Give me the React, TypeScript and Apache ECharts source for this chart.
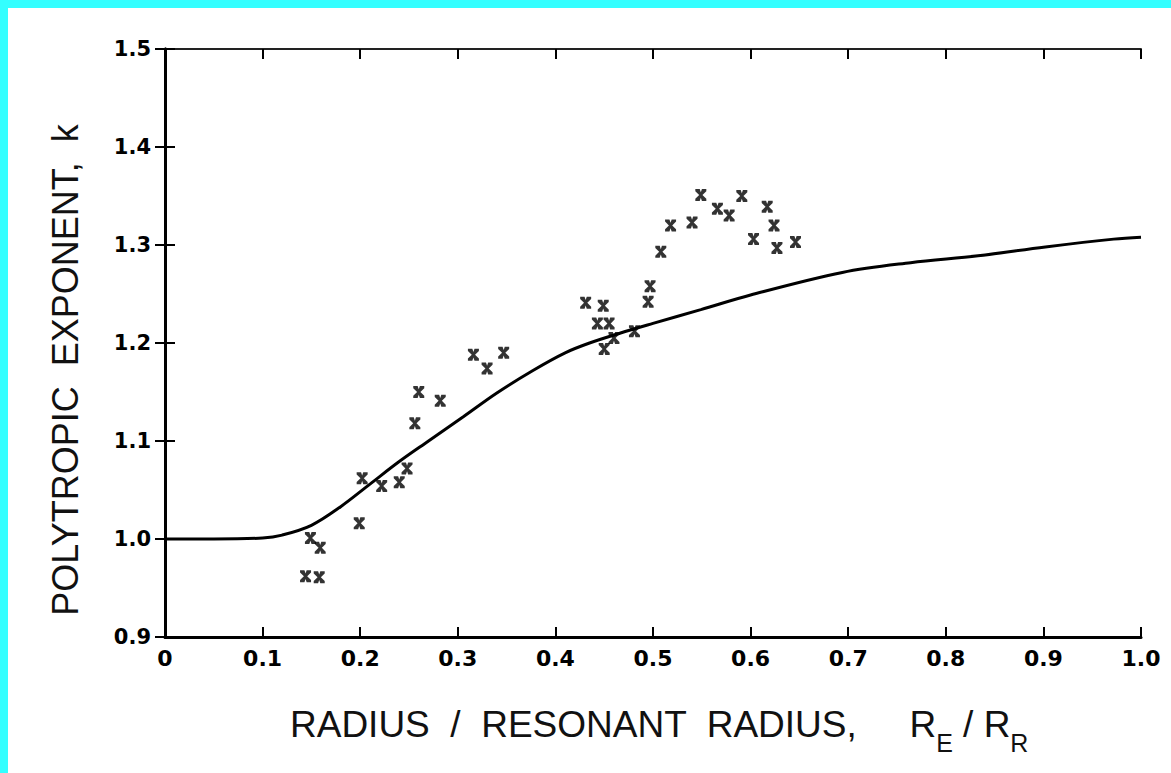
import React, { useEffect, useRef } from "react";
import * as echarts from "echarts";

// Measured points (radius ratio, polytropic exponent k)
const pointX = [
  0.144, 0.158, 0.149, 0.159, 0.199, 0.202, 0.222, 0.240, 0.248, 0.256, 0.260, 0.282,
  0.316, 0.330, 0.347, 0.431, 0.449, 0.443, 0.455, 0.450, 0.460, 0.481, 0.495, 0.497,
  0.508, 0.518, 0.540, 0.549, 0.566, 0.578, 0.591, 0.603, 0.617, 0.624, 0.627, 0.646,
];
const pointY = [
  0.962, 0.961, 1.001, 0.991, 1.016, 1.062, 1.054, 1.058, 1.072, 1.118, 1.150, 1.141,
  1.188, 1.174, 1.190, 1.241, 1.238, 1.220, 1.220, 1.194, 1.205, 1.212, 1.242, 1.258,
  1.293, 1.320, 1.323, 1.351, 1.337, 1.330, 1.350, 1.306, 1.339, 1.320, 1.297, 1.303,
];

// Theoretical curve
const curveX = [
  0, 0.05, 0.1, 0.12, 0.15, 0.18, 0.21, 0.24, 0.27, 0.306, 0.34, 0.377, 0.41, 0.435,
  0.466, 0.5, 0.549, 0.6, 0.694, 0.764, 0.833, 0.902, 0.972, 1.0,
];
const curveY = [
  1.0, 1.0, 1.001, 1.004, 1.014, 1.033, 1.056, 1.079, 1.1, 1.125, 1.149, 1.172, 1.19,
  1.2, 1.21, 1.22, 1.234, 1.249, 1.272, 1.282, 1.289, 1.298, 1.306, 1.308,
];

const xTitle = "RADIUS  /  RESONANT  RADIUS,";
const yTitle = "POLYTROPIC  EXPONENT,  k";

const X_SYMBOL =
  "path://M0,0H4L5,3L6,0H10V2L6.5,5.5L10,9V11H6L5,8L4,11H0V9L3.5,5.5L0,2Z";

export default function App() {
  const ref = useRef<HTMLDivElement>(null);

  useEffect(() => {
    if (!ref.current) return;
    const chart = echarts.init(ref.current, undefined, { renderer: "svg" });
    const frame = { lineStyle: { color: "#000", width: 3 } };
    const tickFont = {
      fontFamily: "DejaVu Sans",
      fontWeight: "bold" as const,
      color: "#000",
    };
    chart.setOption({
      animation: false,
      backgroundColor: "#fff",
      grid: { left: 157, top: 41, right: 30, bottom: 136 },
      xAxis: [
        {
          type: "value",
          min: 0,
          max: 1,
          interval: 0.1,
          position: "bottom",
          axisLine: frame,
          axisTick: { inside: true, length: 10, lineStyle: { color: "#000", width: 2 } },
          axisLabel: {
            ...tickFont,
            fontSize: 22,
            margin: 10,
            formatter: (v: number) => (v === 0 ? "0" : v.toFixed(1)),
          },
          splitLine: { show: false },
        },
        {
          type: "value",
          min: 0,
          max: 1,
          interval: 0.1,
          position: "top",
          axisLine: { lineStyle: { color: "#222", width: 2 } },
          axisTick: { inside: true, length: 10, lineStyle: { color: "#000", width: 2 } },
          axisLabel: { show: false },
          splitLine: { show: false },
        },
      ],
      yAxis: [
        {
          type: "value",
          min: 0.9,
          max: 1.5,
          interval: 0.1,
          position: "left",
          axisLine: frame,
          axisTick: { inside: true, length: 10, lineStyle: { color: "#000", width: 2 } },
          axisLabel: {
            ...tickFont,
            fontSize: 21,
            margin: 14,
            formatter: (v: number) => v.toFixed(1),
          },
          splitLine: { show: false },
        },
        {
          type: "value",
          min: 0.9,
          max: 1.5,
          interval: 0.1,
          position: "right",
          axisLine: frame,
          axisTick: { inside: true, length: 10, lineStyle: { color: "#000", width: 2 } },
          axisLabel: { show: false },
          splitLine: { show: false },
        },
      ],
      series: [
        {
          type: "line",
          data: curveX.map((x, i) => [x, curveY[i]]),
          showSymbol: false,
          smooth: 0.35,
          lineStyle: { color: "#000", width: 3 },
          z: 3,
        },
        {
          type: "scatter",
          data: pointX.map((x, i) => [x, pointY[i]]),
          symbol: X_SYMBOL,
          symbolSize: [11, 12],
          itemStyle: { color: "#000" },
          z: 4,
        },
      ],
      graphic: [
        {
          type: "text",
          x: 57,
          y: 362,
          rotation: Math.PI / 2,
          style: {
            text: yTitle,
            fontFamily: "Liberation Sans",
            fontSize: 36,
            fill: "#111",
            align: "center",
            verticalAlign: "middle",
          },
        },
        {
          type: "text",
          left: 282,
          top: 698,
          style: {
            text: "{a|" + xTitle + "}{g|}{a|R}{s|E}{a| / R}{s|R}",
            rich: {
              a: {
                fontFamily: "Liberation Sans",
                fontSize: 37,
                fill: "#111",
                verticalAlign: "bottom",
                padding: [0, 0, 12, 0],
              },
              g: { width: 52 },
              s: {
                fontFamily: "Liberation Sans",
                fontSize: 25,
                fill: "#111",
                verticalAlign: "bottom",
              },
            },
          },
        },
      ],
    });
    return () => chart.dispose();
  }, []);

  return (
    <div
      style={{
        position: "fixed",
        left: 0,
        top: 0,
        right: 0,
        bottom: 0,
        background: "#33FFFF",
        overflow: "hidden",
      }}
    >
      <div
        ref={ref}
        style={{
          position: "absolute",
          left: 8,
          top: 8,
          width: 1163,
          height: 765,
          background: "#fff",
        }}
      />
    </div>
  );
}
